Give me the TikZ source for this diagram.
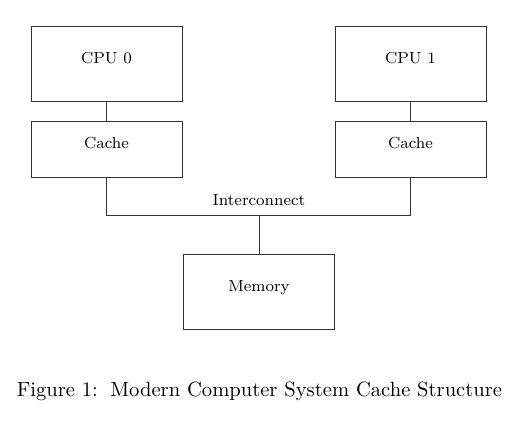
\documentclass[tikz,border=0pt]{standalone}
\begin{document}
\begin{tikzpicture}[x=0.5pt,y=-0.5pt,
  unit/.style={draw=black!80, line width=0.45pt, minimum width=75.5pt, minimum height=37.5pt, inner sep=0pt, font=\footnotesize, text height=6pt, text depth=6pt},
  cachebox/.style={unit, minimum height=28pt},
  wire/.style={draw=black!80, line width=0.45pt}]
\useasboundingbox (0,0) rectangle (519,426);
\node[unit] (cpu0) at (106.5,63.5) {CPU 0};
\node[cachebox] (cache0) at (106.5,149) {Cache};
\node[unit] (cpu1) at (410.5,63.5) {CPU 1};
\node[cachebox] (cache1) at (410.5,149) {Cache};
\node[unit] (mem) at (259,292) {Memory};
\coordinate (jl) at (106.5,215);
\coordinate (jr) at (410.5,215);
\coordinate (jm) at (259,215);
\draw[wire] (cpu0) -- (cache0);
\draw[wire] (cpu1) -- (cache1);
\draw[wire] (cache0) -- (jl) -- (jr) -- (cache1);
\draw[wire] (jm) -- (mem);
\node[font=\footnotesize, inner sep=0pt, anchor=base] (ic) at (259,206) {Interconnect};
\node[inner sep=0pt, anchor=base, font=\fontsize{10.3}{12}\selectfont] (cap) at (259.5,397) {Figure 1:\hspace{0.6em}Modern Computer System Cache Structure};
\end{tikzpicture}
\end{document}
